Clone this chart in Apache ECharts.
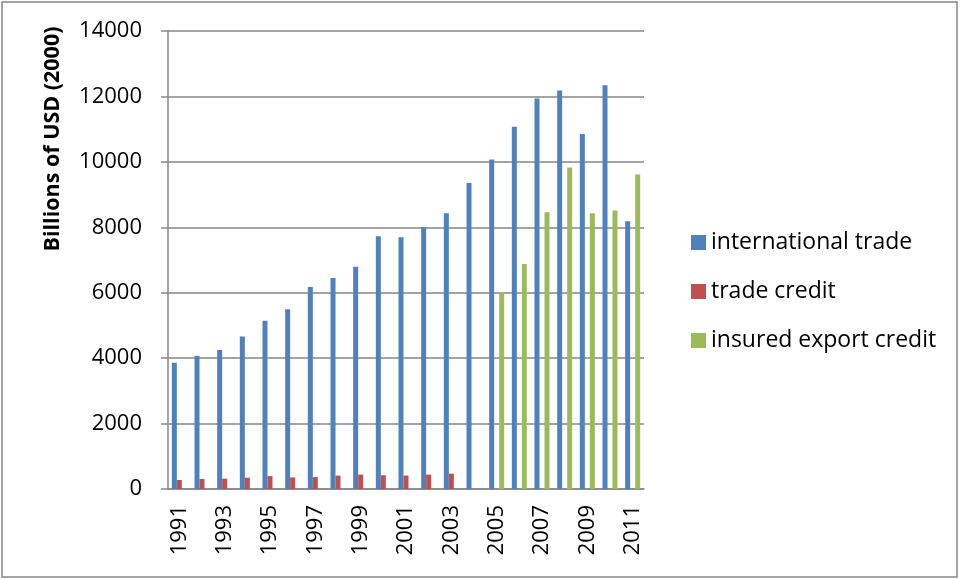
<!DOCTYPE html>
<html>
<head>
<meta charset="utf-8">
<script src="https://cdn.jsdelivr.net/npm/echarts@6/dist/echarts.min.js"></script>
<style>
  html, body { margin: 0; padding: 0; background: #fff; }
  #chart { width: 961px; height: 579px; }
</style>
</head>
<body>
<div id="chart"></div>
<script>
// years on the x axis
const years = ['1991', '1992', '1993', '1994', '1995', '1996', '1997', '1998', '1999', '2000',
  '2001', '2002', '2003', '2004', '2005', '2006', '2007', '2008', '2009', '2010', '2011']

// international trade
const internationalTrade = [3860, 4075, 4250, 4660, 5145, 5495, 6175, 6450, 6790, 7725,
  7695, 8000, 8430, 9355, 10070, 11070, 11935, 12180, 10855, 12345, 8185]

// trade credit
const tradeCredit = [275, 305, 315, 345, 395, 355, 365, 410, 440, 420,
  410, 440, 470, null, null, null, null, null, null, null, null]

// insured export credit
const insuredExportCredit = [null, null, null, null, null, null, null, null, null, null,
  null, null, null, null, 6010, 6880, 8460, 9825, 8430, 8510, 9610]

const seriesNames = ['international trade', 'trade credit', 'insured export credit']
const colors = ['#4F81BD', '#C0504D', '#9BBB59']

const chart = echarts.init(document.getElementById('chart'))
const font = 'Open Sans'

const option = {
  animation: false,
  color: colors,
  grid: { left: 168, right: 317, top: 31, bottom: 90 },
  legend: {
    orient: 'vertical',
    left: 686,
    top: 226,
    itemWidth: 15,
    itemHeight: 15,
    itemGap: 26,
    icon: 'rect',
    textStyle: { fontFamily: font, fontSize: 23, color: '#000', lineHeight: 22 },
    data: seriesNames
  },
  graphic: [
    {
      type: 'rect',
      shape: { x: 2, y: 2, width: 955, height: 575 },
      style: { fill: null, stroke: '#878787', lineWidth: 1.5 }
    },
    {
      type: 'text',
      x: 53,
      y: 139,
      rotation: Math.PI / 2,
      style: {
        text: 'Billions of USD (2000)',
        font: 'bold 21.5px "Open Sans"',
        fill: '#000',
        align: 'center',
        verticalAlign: 'middle'
      }
    }
  ],
  xAxis: {
    type: 'category',
    data: years,
    axisLine: { lineStyle: { color: '#868686', width: 1.5 } },
    axisTick: { interval: 0, length: 7, lineStyle: { color: '#868686', width: 1.5 } },
    axisLabel: {
      interval: 1,
      rotate: 90,
      margin: 16,
      fontFamily: font,
      fontSize: 22,
      color: '#000'
    }
  },
  yAxis: {
    type: 'value',
    min: 0,
    max: 14000,
    interval: 2000,
    axisLine: { show: true, lineStyle: { color: '#868686', width: 1.5 } },
    axisTick: { show: true, length: 7, lineStyle: { color: '#868686', width: 1.5 } },
    splitLine: { lineStyle: { color: '#868686', width: 1.5 } },
    axisLabel: {
      margin: 26,
      fontFamily: font,
      fontSize: 22,
      color: '#000',
      formatter: v => String(v)
    }
  },
  series: [
    { name: seriesNames[0], type: 'bar', barWidth: 5, barGap: '0%', data: internationalTrade },
    { name: seriesNames[1], type: 'bar', barWidth: 5, barGap: '0%', data: tradeCredit },
    { name: seriesNames[2], type: 'bar', barWidth: 5, barGap: '0%', data: insuredExportCredit }
  ]
}

chart.setOption(option)
</script>
</body>
</html>
